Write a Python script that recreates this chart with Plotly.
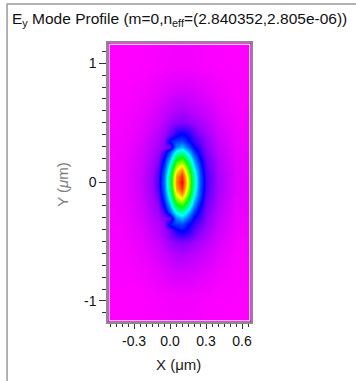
import plotly.graph_objects as go

# grid coordinates (um) of the sampled field; outermost entries are zero borders
x_grid = [-1.0, -0.40, -0.25, -0.15, -0.10, -0.05, 0.00, 0.05, 0.10, 0.15, 0.20, 0.25, 0.30, 0.40, 0.55, 1.2]
y_half = [0.00, 0.05, 0.10, 0.15, 0.20, 0.25, 0.30, 0.35, 0.40, 0.45, 0.50, 0.60, 0.75, 0.95, 1.6]

# |Ey|, one list per y level (upper half; lower half mirrors it)
r000 = [0, .008, .025, .050, .090, .220, .470, .860, 1.00, .720, .400, .200, .095, .045, .015, 0]
r005 = [0, .008, .025, .049, .087, .213, .456, .834, .960, .698, .388, .195, .093, .044, .015, 0]
r010 = [0, .008, .024, .047, .078, .190, .409, .748, .861, .626, .348, .180, .088, .042, .014, 0]
r015 = [0, .008, .023, .045, .066, .160, .343, .628, .723, .526, .292, .160, .082, .040, .013, 0]
r020 = [0, .007, .022, .042, .056, .127, .270, .495, .569, .414, .230, .130, .075, .037, .012, 0]
r025 = [0, .007, .020, .039, .049, .092, .197, .361, .416, .302, .168, .110, .068, .034, .011, 0]
r030 = [0, .006, .018, .035, .044, .062, .070, .240, .287, .209, .125, .095, .060, .031, .010, 0]
r035 = [0, .006, .016, .032, .040, .055, .150, .180, .190, .140, .100, .080, .055, .028, .009, 0]
r040 = [0, .005, .014, .028, .036, .050, .075, .120, .140, .120, .085, .062, .048, .025, .008, 0]
r045 = [0, .005, .012, .025, .032, .045, .065, .090, .100, .090, .070, .052, .042, .022, .007, 0]
r050 = [0, .004, .011, .022, .028, .038, .050, .060, .065, .060, .050, .042, .036, .019, .006, 0]
r060 = [0, .003, .008, .016, .021, .028, .035, .040, .042, .040, .035, .030, .026, .014, .004, 0]
r075 = [0, .002, .005, .010, .013, .016, .020, .023, .024, .023, .020, .017, .015, .008, .002, 0]
r095 = [0, .000, .001, .003, .004, .005, .006, .007, .007, .007, .006, .005, .004, .002, .001, 0]
r160 = [0] * 16

upper_rows = [r000, r005, r010, r015, r020, r025, r030, r035, r040, r045, r050, r060, r075, r095, r160]

y_grid = [-v for v in reversed(y_half[1:])] + y_half
z_rows = list(reversed(upper_rows[1:])) + upper_rows

x_ticks = [-0.3, 0.0, 0.3, 0.6]
x_tick_text = ["-0.3", "0.0", "0.3", "0.6"]
y_ticks = [-1, 0, 1]
y_tick_text = ["-1", "0", "1"]

colorscale = [[0.0, "#ff00ff"], [0.13, "#0000ff"], [0.34, "#00ffff"],
              [0.55, "#00ff00"], [0.75, "#ffff00"], [1.0, "#ff0000"]]

fig = go.Figure(go.Heatmap(x=x_grid, y=y_grid, z=z_rows, zmin=0, zmax=1,
                           colorscale=colorscale, zsmooth="best", showscale=False,
                           hoverinfo="skip"))

FONT = "Liberation Sans, Arial, sans-serif"
axis_common = dict(showline=True, mirror=True, linecolor="#8a8a8a", linewidth=1.5,
                   ticks="outside", tickcolor="#333", showgrid=False, zeroline=False,
                   tickfont=dict(family=FONT, size=14, color="#111"))

fig.update_xaxes(range=[-0.517, 0.675], tickmode="array", tickvals=x_ticks, ticktext=x_tick_text,
                 ticklen=5, minor=dict(dtick=0.05, tick0=0, ticklen=3, ticks="outside", tickcolor="#333"),
                 **axis_common)
fig.update_yaxes(range=[-1.177, 1.171], tickmode="array", tickvals=y_ticks, ticktext=y_tick_text,
                 ticklen=7, minor=dict(dtick=0.1, tick0=0, ticklen=4, ticks="outside", tickcolor="#333"),
                 **axis_common)

fig.update_layout(
    width=356, height=381,
    margin=dict(l=108, r=105, t=43, b=59),
    paper_bgcolor="white", plot_bgcolor="#ff00ff",
    showlegend=False,
    annotations=[
        dict(text="E<sub>y</sub> Mode Profile (m=0,n<sub>eff</sub>=(2.840352,2.805e-06))",
             xref="paper", yref="paper", x=-0.685, y=1.086, xanchor="left", yanchor="middle",
             showarrow=False, font=dict(family=FONT, size=15.5, color="#111")),
        dict(text="Y (<i>μ</i>m)", xref="paper", yref="paper", x=-0.315, y=0.495,
             xanchor="center", yanchor="middle", textangle=-90, showarrow=False,
             font=dict(family=FONT, size=15, color="#808080")),
        dict(text="X (μm)", xref="paper", yref="paper", x=0.49, y=-0.154,
             xanchor="center", yanchor="middle", showarrow=False,
             font=dict(family=FONT, size=15, color="#222")),
    ],
    shapes=[
        dict(type="rect", xref="paper", yref="paper", x0=0.009, y0=0.0046, x1=0.991, y1=0.9954,
             line=dict(color="white", width=1), fillcolor="rgba(0,0,0,0)", layer="above"),
        dict(type="rect", xref="paper", yref="paper", x0=-0.706, y0=-0.3, x1=1.9, y1=1.1398,
             line=dict(color="#9a9a9a", width=1.5), fillcolor="rgba(0,0,0,0)", layer="above"),
    ],
)

fig.write_html("out.html", config={"displayModeBar": False},
               post_script="document.body.style.margin='0';document.body.style.overflow='hidden';")
